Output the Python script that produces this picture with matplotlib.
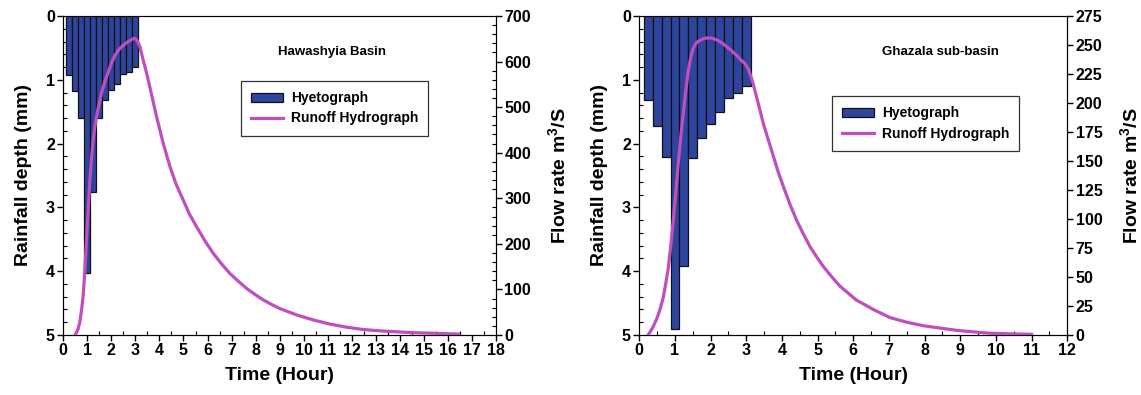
import matplotlib
matplotlib.use("Agg")
import matplotlib.pyplot as plt
from matplotlib.ticker import MultipleLocator
from matplotlib.patches import Patch
from matplotlib.lines import Line2D

plt.rcParams['font.family'] = ['Liberation Sans', 'DejaVu Sans']
plt.rcParams['font.weight'] = 'bold'
plt.rcParams['mathtext.fontset'] = 'custom'
plt.rcParams['mathtext.rm'] = 'Liberation Sans:bold'
plt.rcParams['mathtext.bf'] = 'Liberation Sans:bold'

# ---- Hawashyia Basin ----
haw_bar_t = [0.25, 0.5, 0.75, 1.0, 1.25, 1.5, 1.75, 2.0, 2.25, 2.5, 2.75, 3.0]
haw_rain = [0.93, 1.18, 1.60, 4.03, 2.76, 1.60, 1.31, 1.16, 1.06, 0.91, 0.88, 0.80]
haw_t = [0.49, 0.55, 0.62, 0.69, 0.76, 0.83, 0.90, 0.97, 1.04, 1.11, 1.18, 1.25, 1.32, 1.39,
         1.50, 1.60, 1.73, 1.87, 2.0, 2.15, 2.32, 2.50, 2.65, 2.80, 2.90, 2.97, 3.03, 3.08,
         3.13, 3.19, 3.30, 3.47, 3.67, 3.88, 4.15, 4.44, 4.70, 4.99, 5.25, 5.55, 5.90, 6.24,
         6.6, 6.93, 7.3, 7.63, 8.0, 8.32, 8.7, 9.01, 9.71, 10.4, 11.09, 11.8, 12.48, 13.2,
         13.87, 14.6, 15.25, 16.43]
haw_q = [0, 5, 14, 29, 55, 88, 145, 212, 280, 343, 392, 431, 460, 482,
         510, 533, 556, 577, 596, 614, 627, 636, 642, 647, 650, 651, 649, 645,
         640, 632, 608, 574, 528, 479, 422, 369, 330, 296, 265, 237, 206, 179,
         155, 135, 117, 102, 88, 77, 66, 58, 44, 33, 24, 17, 12, 9,
         7, 5, 4, 2]

# ---- Ghazala sub-basin ----
gha_bar_t = [0.25, 0.5, 0.75, 1.0, 1.25, 1.5, 1.75, 2.0, 2.25, 2.5, 2.75, 3.0]
gha_rain = [1.31, 1.73, 2.21, 4.91, 3.92, 2.22, 1.92, 1.70, 1.50, 1.29, 1.20, 1.10]
gha_t = [0.25, 0.37, 0.49, 0.58, 0.67, 0.74, 0.81, 0.88, 0.95, 1.02, 1.09, 1.16, 1.23, 1.30,
         1.37, 1.44, 1.51, 1.60, 1.70, 1.85, 2.03, 2.20, 2.35, 2.55, 2.73, 2.85, 2.96, 3.06,
         3.15, 3.24, 3.34, 3.48, 3.62, 3.76, 3.90, 4.04, 4.22, 4.41, 4.60, 4.79, 4.98, 5.16,
         5.40, 5.63, 5.86, 6.09, 6.33, 6.56, 7.03, 7.50, 7.96, 8.43, 8.90, 9.37, 9.83, 10.4, 11.0]
gha_q = [0, 6, 14, 22, 32, 44, 57, 76, 98, 122, 147, 170, 190, 210,
         227, 239, 247, 252, 254, 256, 256, 254, 251, 246, 241, 237, 234, 229,
         221, 211, 199, 182, 168, 154, 140, 128, 113, 99, 87, 76, 67, 59,
         50, 42, 36, 30, 26, 22, 15, 11, 8, 6, 4, 2.7, 1.5, 1.0, 0.6]

bar_color = '#2E45A0'
line_color = '#C04EBE'

fig = plt.figure(figsize=(11.41, 3.95), dpi=100)


def make_panel(rect, bar_t, rain, t, q, xmax, qmax, qmajor, qminor, title, title_xy, leg_anchor):
    ax = fig.add_axes(rect)
    ax.bar(bar_t, rain, width=0.25, color=bar_color, edgecolor='#111111', linewidth=0.9, zorder=2)
    ax.set_ylim(5, 0)
    ax.set_xlim(0, xmax)
    ax.xaxis.set_major_locator(MultipleLocator(1))
    ax.xaxis.set_minor_locator(MultipleLocator(0.5))
    ax.yaxis.set_major_locator(MultipleLocator(1))
    ax.yaxis.set_minor_locator(MultipleLocator(0.2))
    ax.tick_params(which='major', direction='out', length=4, width=1, labelsize=11.5, pad=2)
    ax.tick_params(which='minor', direction='in', length=3, width=0.8)
    ax.tick_params(axis='both', which='both', top=False, right=False)
    for lab in ax.get_xticklabels() + ax.get_yticklabels():
        lab.set_fontweight('bold')
    ax.set_xlabel('Time (Hour)', fontsize=14, fontweight='bold', labelpad=6)
    ax.set_ylabel('Rainfall depth (mm)', fontsize=14, fontweight='bold', labelpad=10)
    ax.spines['top'].set_color('#666666')

    ax2 = ax.twinx()
    ax2.plot(t, q, color=line_color, linewidth=2.3, zorder=3)
    ax2.set_ylim(0, qmax)
    ax2.yaxis.set_major_locator(MultipleLocator(qmajor))
    if qminor:
        ax2.yaxis.set_minor_locator(MultipleLocator(qminor))
    ax2.tick_params(which='major', direction='out', length=4, width=1, labelsize=11.5, pad=2)
    ax2.tick_params(which='minor', direction='in', length=3, width=0.8)
    for lab in ax2.get_yticklabels():
        lab.set_fontweight('bold')
    ax2.set_ylabel(r'Flow rate m$^{3}$/S', fontsize=14, fontweight='bold', labelpad=12)

    fig.text(title_xy[0], title_xy[1], title, fontsize=9.5, fontweight='bold',
             ha='center', va='center')
    handles = [Patch(facecolor=bar_color, edgecolor='#111111', linewidth=0.9),
               Line2D([0], [0], color=line_color, linewidth=2.3)]
    leg = ax2.legend(handles, ['Hyetograph', 'Runoff Hydrograph'], loc='upper left',
                     bbox_to_anchor=leg_anchor, bbox_transform=fig.transFigure,
                     borderaxespad=0, fancybox=False, framealpha=1, edgecolor='#333333',
                     prop={'weight': 'bold', 'size': 10}, handlelength=2.3,
                     handleheight=0.65, borderpad=0.75, labelspacing=0.45,
                     handletextpad=0.55)
    leg.get_frame().set_linewidth(0.9)
    return ax, ax2


W, H = 1141, 395
make_panel([63.3 / W, 1 - 335 / H, (496 - 63.3) / W, (335 - 16) / H],
           haw_bar_t, haw_rain, haw_t, haw_q, 18, 700, 100, 20,
           'Hawashyia Basin', (331.7 / W, 1 - 51.7 / H), (240.7 / W, 1 - 80.7 / H))
make_panel([639.3 / W, 1 - 335 / H, (1067.3 - 639.3) / W, (335 - 16) / H],
           gha_bar_t, gha_rain, gha_t, gha_q, 12, 275, 25, None,
           'Ghazala sub-basin', (940 / W, 1 - 51.7 / H), (831.7 / W, 1 - 96 / H))

fig.savefig('out.png', dpi=100)
